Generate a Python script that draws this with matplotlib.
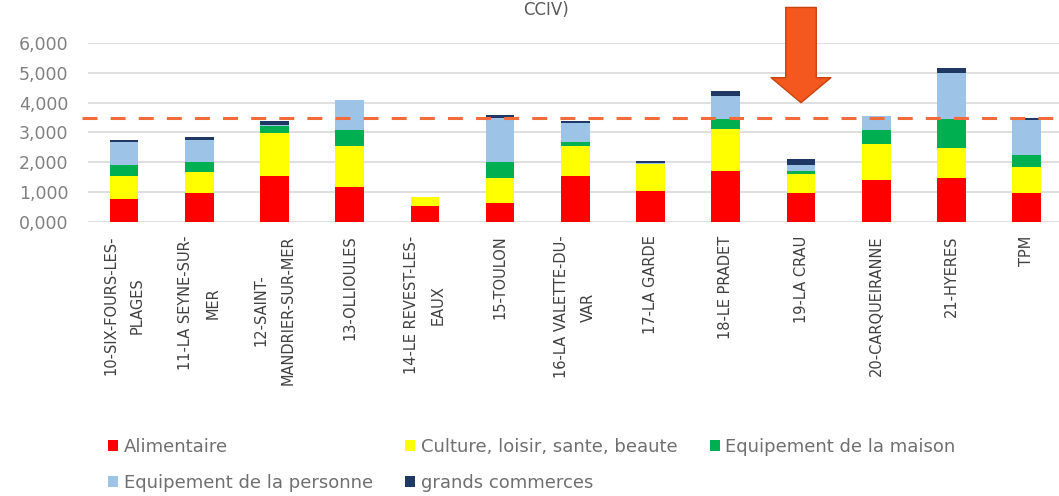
import matplotlib
matplotlib.use("Agg")
import matplotlib.pyplot as plt
import numpy as np

communes = ['10-SIX-FOURS-LES-\nPLAGES', '11-LA SEYNE-SUR-\nMER', '12-SAINT-\nMANDRIER-SUR-MER',
            '13-OLLIOULES', '14-LE REVEST-LES-\nEAUX', '15-TOULON', '16-LA VALETTE-DU-\nVAR',
            '17-LA GARDE', '18-LE PRADET', '19-LA CRAU', '20-CARQUEIRANNE', '21-HYERES', 'TPM']

alimentaire = [770, 950, 1530, 1150, 520, 630, 1530, 1020, 1720, 950, 1400, 1460, 950]
culture = [760, 720, 1460, 1400, 320, 830, 1020, 910, 1410, 660, 1220, 1030, 890]
equip_maison = [390, 320, 230, 520, 0, 530, 120, 0, 320, 110, 450, 960, 400]
equip_personne = [760, 770, 30, 1010, 0, 1490, 660, 40, 770, 200, 490, 1550, 1190]
grands_commerces = [80, 80, 150, 0, 0, 110, 60, 60, 180, 180, 0, 170, 50]

seuil = 3480          # dashed reference line (TPM level)
commune_ciblee = 9    # 19-LA CRAU, pointed by the arrow

series = [
    ('Alimentaire', alimentaire, '#FF0000'),
    ('Culture, loisir, sante, beaute', culture, '#FFFF00'),
    ('Equipement de la maison', equip_maison, '#00B050'),
    ('Equipement de la personne', equip_personne, '#9DC3E6'),
    ('grands commerces', grands_commerces, '#1F3864'),
]

plt.rcParams['font.family'] = ['DejaVu Sans']

fig = plt.figure(figsize=(10.59, 4.96), dpi=100)
ax = fig.add_axes([0.0831, 0.553, 0.9169, 0.36])

x = np.arange(len(communes))
bottom = np.zeros(len(communes))
bars = {}
for name, vals, col in series:
    bars[name] = ax.bar(x, vals, 0.38, bottom=bottom, color=col, label=name, zorder=2)
    bottom += np.array(vals)

ax.set_ylim(0, 6000)
ax.set_xlim(-0.479, 12.43)
ax.set_yticks(np.arange(0, 6001, 1000))
ax.set_yticklabels(['{:,.3f}'.format(v / 1000).replace('.', ',') for v in range(0, 6001, 1000)])
ax.yaxis.grid(True, color='#D9D9D9', linewidth=1.2, zorder=0)
ax.set_axisbelow(True)
for s in ax.spines.values():
    s.set_visible(False)
ax.tick_params(axis='y', length=0, pad=14, labelsize=12.5, labelcolor='#808080')
ax.set_xticks(x)
ax.set_xticklabels(communes, rotation=90, fontsize=10.5, color='#404040',
                   multialignment='center', linespacing=2.0)
ax.tick_params(axis='x', length=0, pad=10)

# dashed threshold line
ax.plot([-0.56, 12.43], [seuil, seuil], color='#F26B3A', lw=2.2,
        dashes=(4.9, 4.3), clip_on=False, zorder=3)

# arrow over the targeted commune
ax.annotate('', xy=(commune_ciblee, 4000), xytext=(commune_ciblee, 7200),
            annotation_clip=False,
            arrowprops=dict(arrowstyle='simple,head_length=1.8,head_width=4.3,tail_width=2.2',
                            mutation_scale=10, fc='#F4581E', ec='#C9430F', lw=1,
                            shrinkA=0, shrinkB=0))

# title, only its end visible at the top
fig.text(546 / 1059, 1 - 1 / 496, 'CCIV)', fontsize=12, color='#595959',
         ha='center', va='top')

order = ['Alimentaire', 'Equipement de la personne', 'Culture, loisir, sante, beaute',
         'grands commerces', 'Equipement de la maison']
leg = fig.legend([bars[n] for n in order], order, ncol=3, loc='lower left',
                 bbox_to_anchor=(0.087, -0.025), frameon=False, fontsize=13,
                 handlelength=0.55, handleheight=0.55, handletextpad=0.3,
                 columnspacing=1.8, labelspacing=1.0)
for t in leg.get_texts():
    t.set_color('#6F6F6F')

fig.savefig('out.png', dpi=100)
